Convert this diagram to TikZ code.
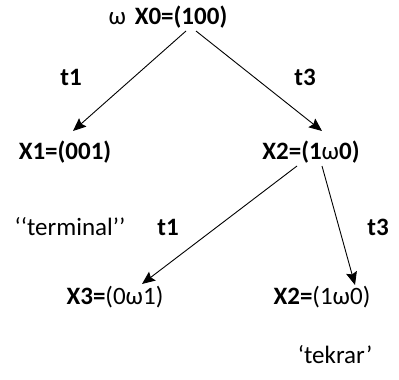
\documentclass[tikz,border=0pt]{standalone}
\usepackage{fontspec}
\setmainfont{Carlito}
\usetikzlibrary{arrows.meta,calc}
\begin{document}
\begin{tikzpicture}[x=1pt,y=-1pt,
  lbl/.style={inner sep=0pt,font=\fontsize{25}{28}\selectfont},
  arr/.style={line width=0.9pt,-{Stealth[length=13pt,width=11pt,inset=2pt]}}]
\useasboundingbox (0,0) rectangle (399,380);
\fill[white] (0,0) rectangle (399,380);
\node[lbl] (x0) at (168,17) {ω\hspace{3pt} \textbf{X0=(100)}};
\node[lbl] (x1) at (65,152) {\textbf{X1=(001)}};
\node[lbl] (x2) at (311,152) {\textbf{X2=(1}ω\textbf{0)}};
\node[lbl] (x3) at (115,297) {\textbf{X3=}(0ω1)};
\node[lbl] (x4) at (322,297) {\textbf{X2=}(1ω0)};
\node[lbl] (ta) at (71,77) {\textbf{t1}};
\node[lbl] (tb) at (305,77) {\textbf{t3}};
\node[lbl] (tc) at (168,227) {\textbf{t1}};
\node[lbl] (td) at (378,227) {\textbf{t3}};
\node[lbl] (term) at (70,227) {‘‘terminal’’};
\node[lbl] (tek) at (335,355) {‘tekrar’};
\draw[arr] ($(x0)+(18,14)$) -- ($(x1)+(8,-21)$);
\draw[arr] ($(x0)+(28,14)$) -- ($(x2)+(11,-21)$);
\draw[arr] ($(x2)+(-14,14)$) -- ($(x3)+(27,-13)$);
\draw[arr] ($(x2)+(11,14)$) -- ($(x4)+(33,-12)$);
\end{tikzpicture}
\end{document}
